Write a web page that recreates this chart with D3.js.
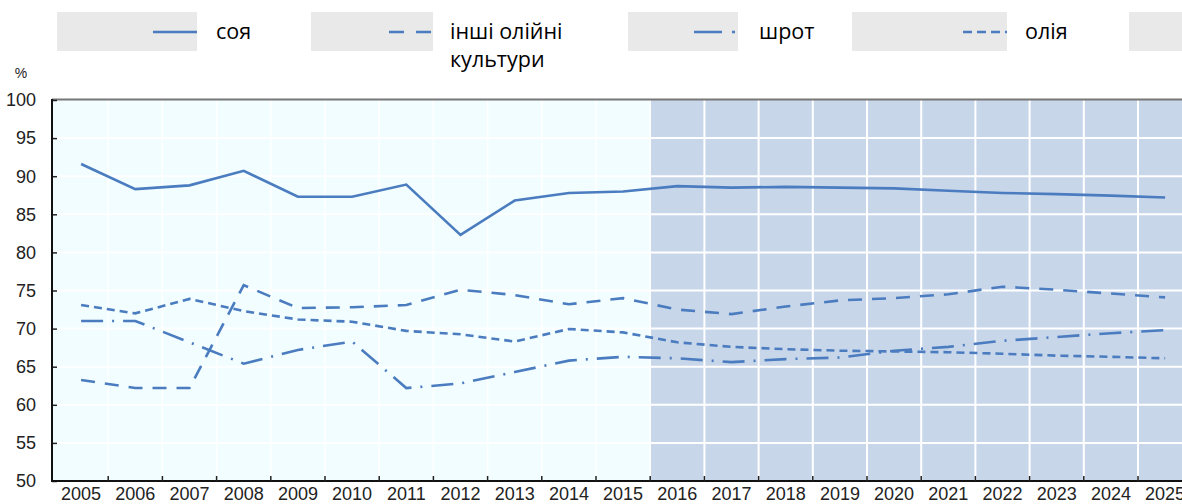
<!DOCTYPE html>
<html>
<head>
<meta charset="utf-8">
<script src="https://cdn.jsdelivr.net/npm/d3@7"></script>
<style>
  html, body { margin: 0; padding: 0; background: #fff; overflow: hidden; }
  svg { display: block; }
  .tick-label { font-family: "Liberation Sans Narrow", "Arial Narrow", "Liberation Sans", sans-serif; font-size: 18px; fill: #222; }
  .legend-text { font-family: "Open Sans", "Noto Sans", sans-serif; font-size: 21.5px; fill: #000; }
</style>
</head>
<body>
<div id="chart"></div>
<script>
const years = ['2005', '2006', '2007', '2008', '2009', '2010', '2011', '2012', '2013', '2014', '2015',
  '2016', '2017', '2018', '2019', '2020', '2021', '2022', '2023', '2024', '2025'];
const firstProjectionYear = '2016';

const soy = [91.6, 88.3, 88.8, 90.7, 87.3, 87.3, 88.9, 82.3, 86.8, 87.8, 88.0,
  88.7, 88.5, 88.6, 88.5, 88.4, 88.1, 87.8, 87.65, 87.45, 87.2];
const otherOilseeds = [63.25, 62.2, 62.2, 75.7, 72.7, 72.8, 73.1, 75.1, 74.4, 73.2, 74.0,
  72.5, 71.9, 72.9, 73.7, 74.0, 74.5, 75.5, 75.1, 74.6, 74.1];
const meal = [71.0, 71.0, 68.2, 65.4, 67.2, 68.3, 62.2, 62.8, 64.3, 65.8, 66.3,
  66.1, 65.6, 66.0, 66.2, 67.1, 67.6, 68.4, 68.9, 69.4, 69.8];
const oil = [73.1, 72.0, 73.9, 72.3, 71.2, 70.9, 69.7, 69.25, 68.3, 69.95, 69.5,
  68.2, 67.6, 67.3, 67.1, 67.0, 66.9, 66.7, 66.45, 66.3, 66.1];

const yTicks = [50, 55, 60, 65, 70, 75, 80, 85, 90, 95, 100];
const seriesNames = [['соя'], ['інші олійні', 'культури'], ['шрот'], ['олія'], []];

const WIDTH = 1182;
const HEIGHT = 504;
const LEFT = 54;
const BAND = 54.2;
const TOP = 100;
const BOTTOM = 481;
const LINE_COLOR = '#4a7cbf';

const series = [
  { values: soy, dash: null },
  { values: otherOilseeds, dash: '14,10' },
  { values: meal, dash: '22,9,2,9' },
  { values: oil, dash: '8,5' },
];

// legend boxes: [x, width, text x]
const legendLayout = [
  [57, 140, 216],
  [311, 122, 450],
  [628, 110, 759],
  [852, 155, 1025],
  [1129, 80, null],
];
const legendDash = [null, '15,12', '28,10,3,10', '9,5', null];

const svg = d3.select('#chart')
  .append('svg')
  .attr('width', WIDTH)
  .attr('height', HEIGHT);

const x = d3.scaleBand()
  .domain(years)
  .range([LEFT, LEFT + BAND * years.length]);

const y = d3.scaleLinear()
  .domain([50, 100])
  .range([BOTTOM, TOP]);

// backgrounds
const projX = x(firstProjectionYear);
svg.append('rect')
  .attr('x', LEFT - 2)
  .attr('y', TOP)
  .attr('width', projX - LEFT + 2)
  .attr('height', BOTTOM - TOP)
  .attr('fill', '#f1fdfe');

svg.append('rect')
  .attr('x', projX)
  .attr('y', TOP)
  .attr('width', x.range()[1] - projX)
  .attr('height', BOTTOM - TOP)
  .attr('fill', '#c8d6ea');

// grid
const boundaries = years.slice(1).map((d) => x(d));
svg.append('g')
  .selectAll('line')
  .data(boundaries)
  .join('line')
  .attr('x1', (d) => d)
  .attr('x2', (d) => d)
  .attr('y1', TOP)
  .attr('y2', BOTTOM)
  .attr('stroke', '#fff')
  .attr('stroke-width', (d) => (d > projX ? 2 : 1.5));

svg.append('g')
  .selectAll('line')
  .data(yTicks.slice(1, -1))
  .join('line')
  .attr('x1', LEFT)
  .attr('x2', x.range()[1])
  .attr('y1', (d) => y(d))
  .attr('y2', (d) => y(d))
  .attr('stroke', '#fff')
  .attr('stroke-width', 2);

// top border
svg.append('line')
  .attr('x1', LEFT - 2)
  .attr('x2', WIDTH)
  .attr('y1', TOP - 0.5)
  .attr('y2', TOP - 0.5)
  .attr('stroke', '#777')
  .attr('stroke-width', 2);

// axes
const yAxis = d3.axisRight(y).tickValues(yTicks).tickSize(5).tickFormat('');
svg.append('g')
  .attr('transform', `translate(${LEFT - 2},0)`)
  .call(yAxis)
  .call((g) => g.select('.domain').remove())
  .call((g) => g.selectAll('.tick line').attr('stroke', '#222').attr('stroke-width', 1.5));

svg.append('line')
  .attr('x1', LEFT - 2)
  .attr('x2', LEFT - 2)
  .attr('y1', TOP - 1)
  .attr('y2', BOTTOM + 1)
  .attr('stroke', '#111')
  .attr('stroke-width', 2);

svg.append('line')
  .attr('x1', LEFT - 3)
  .attr('x2', WIDTH)
  .attr('y1', BOTTOM)
  .attr('y2', BOTTOM)
  .attr('stroke', '#111')
  .attr('stroke-width', 2);

svg.append('g')
  .selectAll('line')
  .data(boundaries)
  .join('line')
  .attr('x1', (d) => d)
  .attr('x2', (d) => d)
  .attr('y1', BOTTOM)
  .attr('y2', BOTTOM - 5)
  .attr('stroke', '#222')
  .attr('stroke-width', 1.5);

svg.append('g')
  .selectAll('text')
  .data(yTicks)
  .join('text')
  .attr('class', 'tick-label')
  .attr('x', 36)
  .attr('y', (d) => y(d))
  .attr('dy', '0.35em')
  .attr('text-anchor', 'end')
  .text((d) => d);

svg.append('text')
  .attr('class', 'tick-label')
  .attr('x', 21)
  .attr('y', 78)
  .attr('text-anchor', 'middle')
  .style('font-size', '14px')
  .text('%');

svg.append('g')
  .selectAll('text')
  .data(years)
  .join('text')
  .attr('class', 'tick-label')
  .attr('x', (d) => x(d) + x.bandwidth() / 2)
  .attr('y', 500)
  .attr('text-anchor', 'middle')
  .text((d) => d);

// lines
const line = d3.line()
  .x((_, i) => x(years[i]) + x.bandwidth() / 2)
  .y((d) => y(d));

svg.append('g')
  .selectAll('path')
  .data(series)
  .join('path')
  .attr('d', (d) => line(d.values))
  .attr('fill', 'none')
  .attr('stroke', LINE_COLOR)
  .attr('stroke-width', 2.6)
  .attr('stroke-dasharray', (d) => d.dash);

// legend
const legend = svg.append('g');
legendLayout.forEach(([lx, lw, tx], i) => {
  legend.append('rect')
    .attr('x', lx)
    .attr('y', 12)
    .attr('width', lw)
    .attr('height', 39)
    .attr('fill', '#e9e9e9');
  if (tx === null) return;
  legend.append('line')
    .attr('x1', lx + lw - 44)
    .attr('x2', lx + lw)
    .attr('y1', 32)
    .attr('y2', 32)
    .attr('stroke', LINE_COLOR)
    .attr('stroke-width', 2.6)
    .attr('stroke-dasharray', legendDash[i]);
  seriesNames[i].forEach((name, j) => {
    legend.append('text')
      .attr('class', 'legend-text')
      .attr('x', tx)
      .attr('y', 39 + j * 28)
      .text(name);
  });
});
</script>
</body>
</html>
